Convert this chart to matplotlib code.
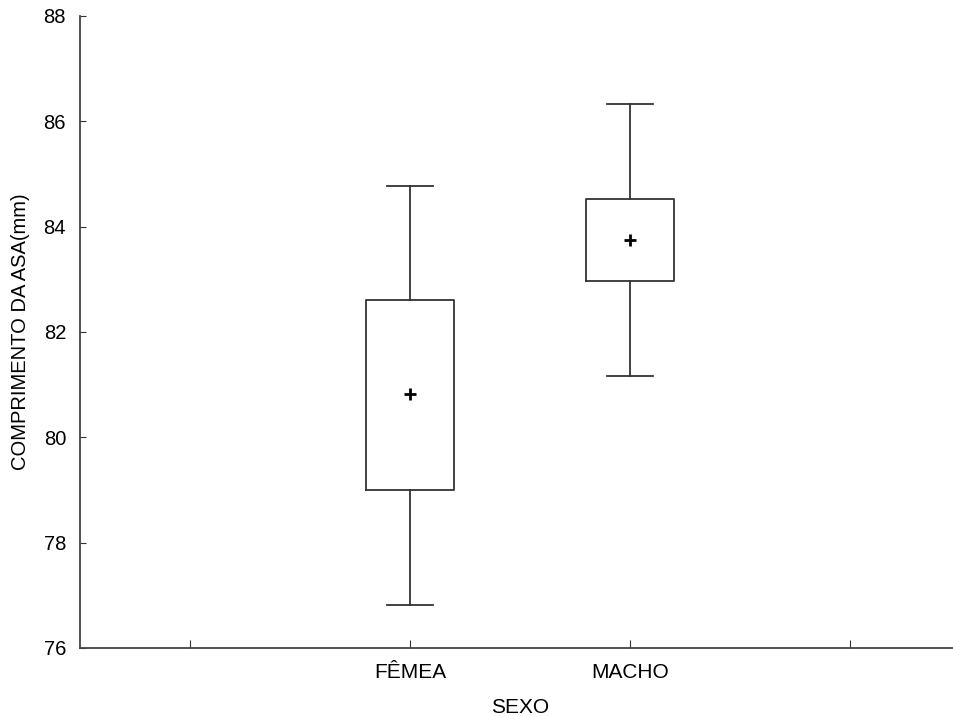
import matplotlib.pyplot as plt

plt.rcParams['font.family'] = ['Liberation Sans', 'DejaVu Sans']

# STATISTICA-style box plot: mean, box = mean +- SE, whiskers = mean +- SD
groups = ['FÊMEA', 'MACHO']
positions = [1, 2]
means = [80.82, 83.75]
box_low = [79.00, 82.97]
box_high = [82.61, 84.53]
whisk_low = [76.82, 81.17]
whisk_high = [84.77, 86.32]

stats = []
for i, g in enumerate(groups):
    stats.append({
        'label': g,
        'med': means[i],
        'mean': means[i],
        'q1': box_low[i],
        'q3': box_high[i],
        'whislo': whisk_low[i],
        'whishi': whisk_high[i],
        'fliers': [],
    })

fig = plt.figure(figsize=(9.54, 7.16), dpi=100)
ax = fig.add_axes([80 / 954, 68 / 716, 880 / 954, 632 / 716])

line_col = '#333333'
ax.bxp(stats, positions=positions, widths=0.4, showmeans=True,
       boxprops=dict(color=line_col, linewidth=1.3),
       whiskerprops=dict(color=line_col, linewidth=1.3),
       capprops=dict(color=line_col, linewidth=1.3),
       capwidths=0.21,
       medianprops=dict(linewidth=0),
       meanprops=dict(marker='+', markeredgecolor='black', markersize=9,
                      markeredgewidth=2))

ax.set_xlim(-0.5, 3.5)
ax.set_ylim(76, 88)
ax.set_xticks([0, 1, 2, 3])
ax.set_xticklabels(['', 'FÊMEA', 'MACHO', ''])
ax.set_yticks([76, 78, 80, 82, 84, 86, 88])
ax.tick_params(axis='y', direction='in', length=4, labelsize=14.5, pad=10,
               color=line_col)
ax.tick_params(axis='x', direction='in', length=6, labelsize=15, pad=11,
               color=line_col)

for s in ['top', 'right']:
    ax.spines[s].set_visible(False)
for s in ['left', 'bottom']:
    ax.spines[s].set_color('#444444')
    ax.spines[s].set_linewidth(1.3)

ax.set_xlabel('SEXO', fontsize=15, labelpad=11)
ax.set_ylabel('COMPRIMENTO DA ASA(mm)', fontsize=14.5, labelpad=10)

fig.savefig('out.png', dpi=100)
